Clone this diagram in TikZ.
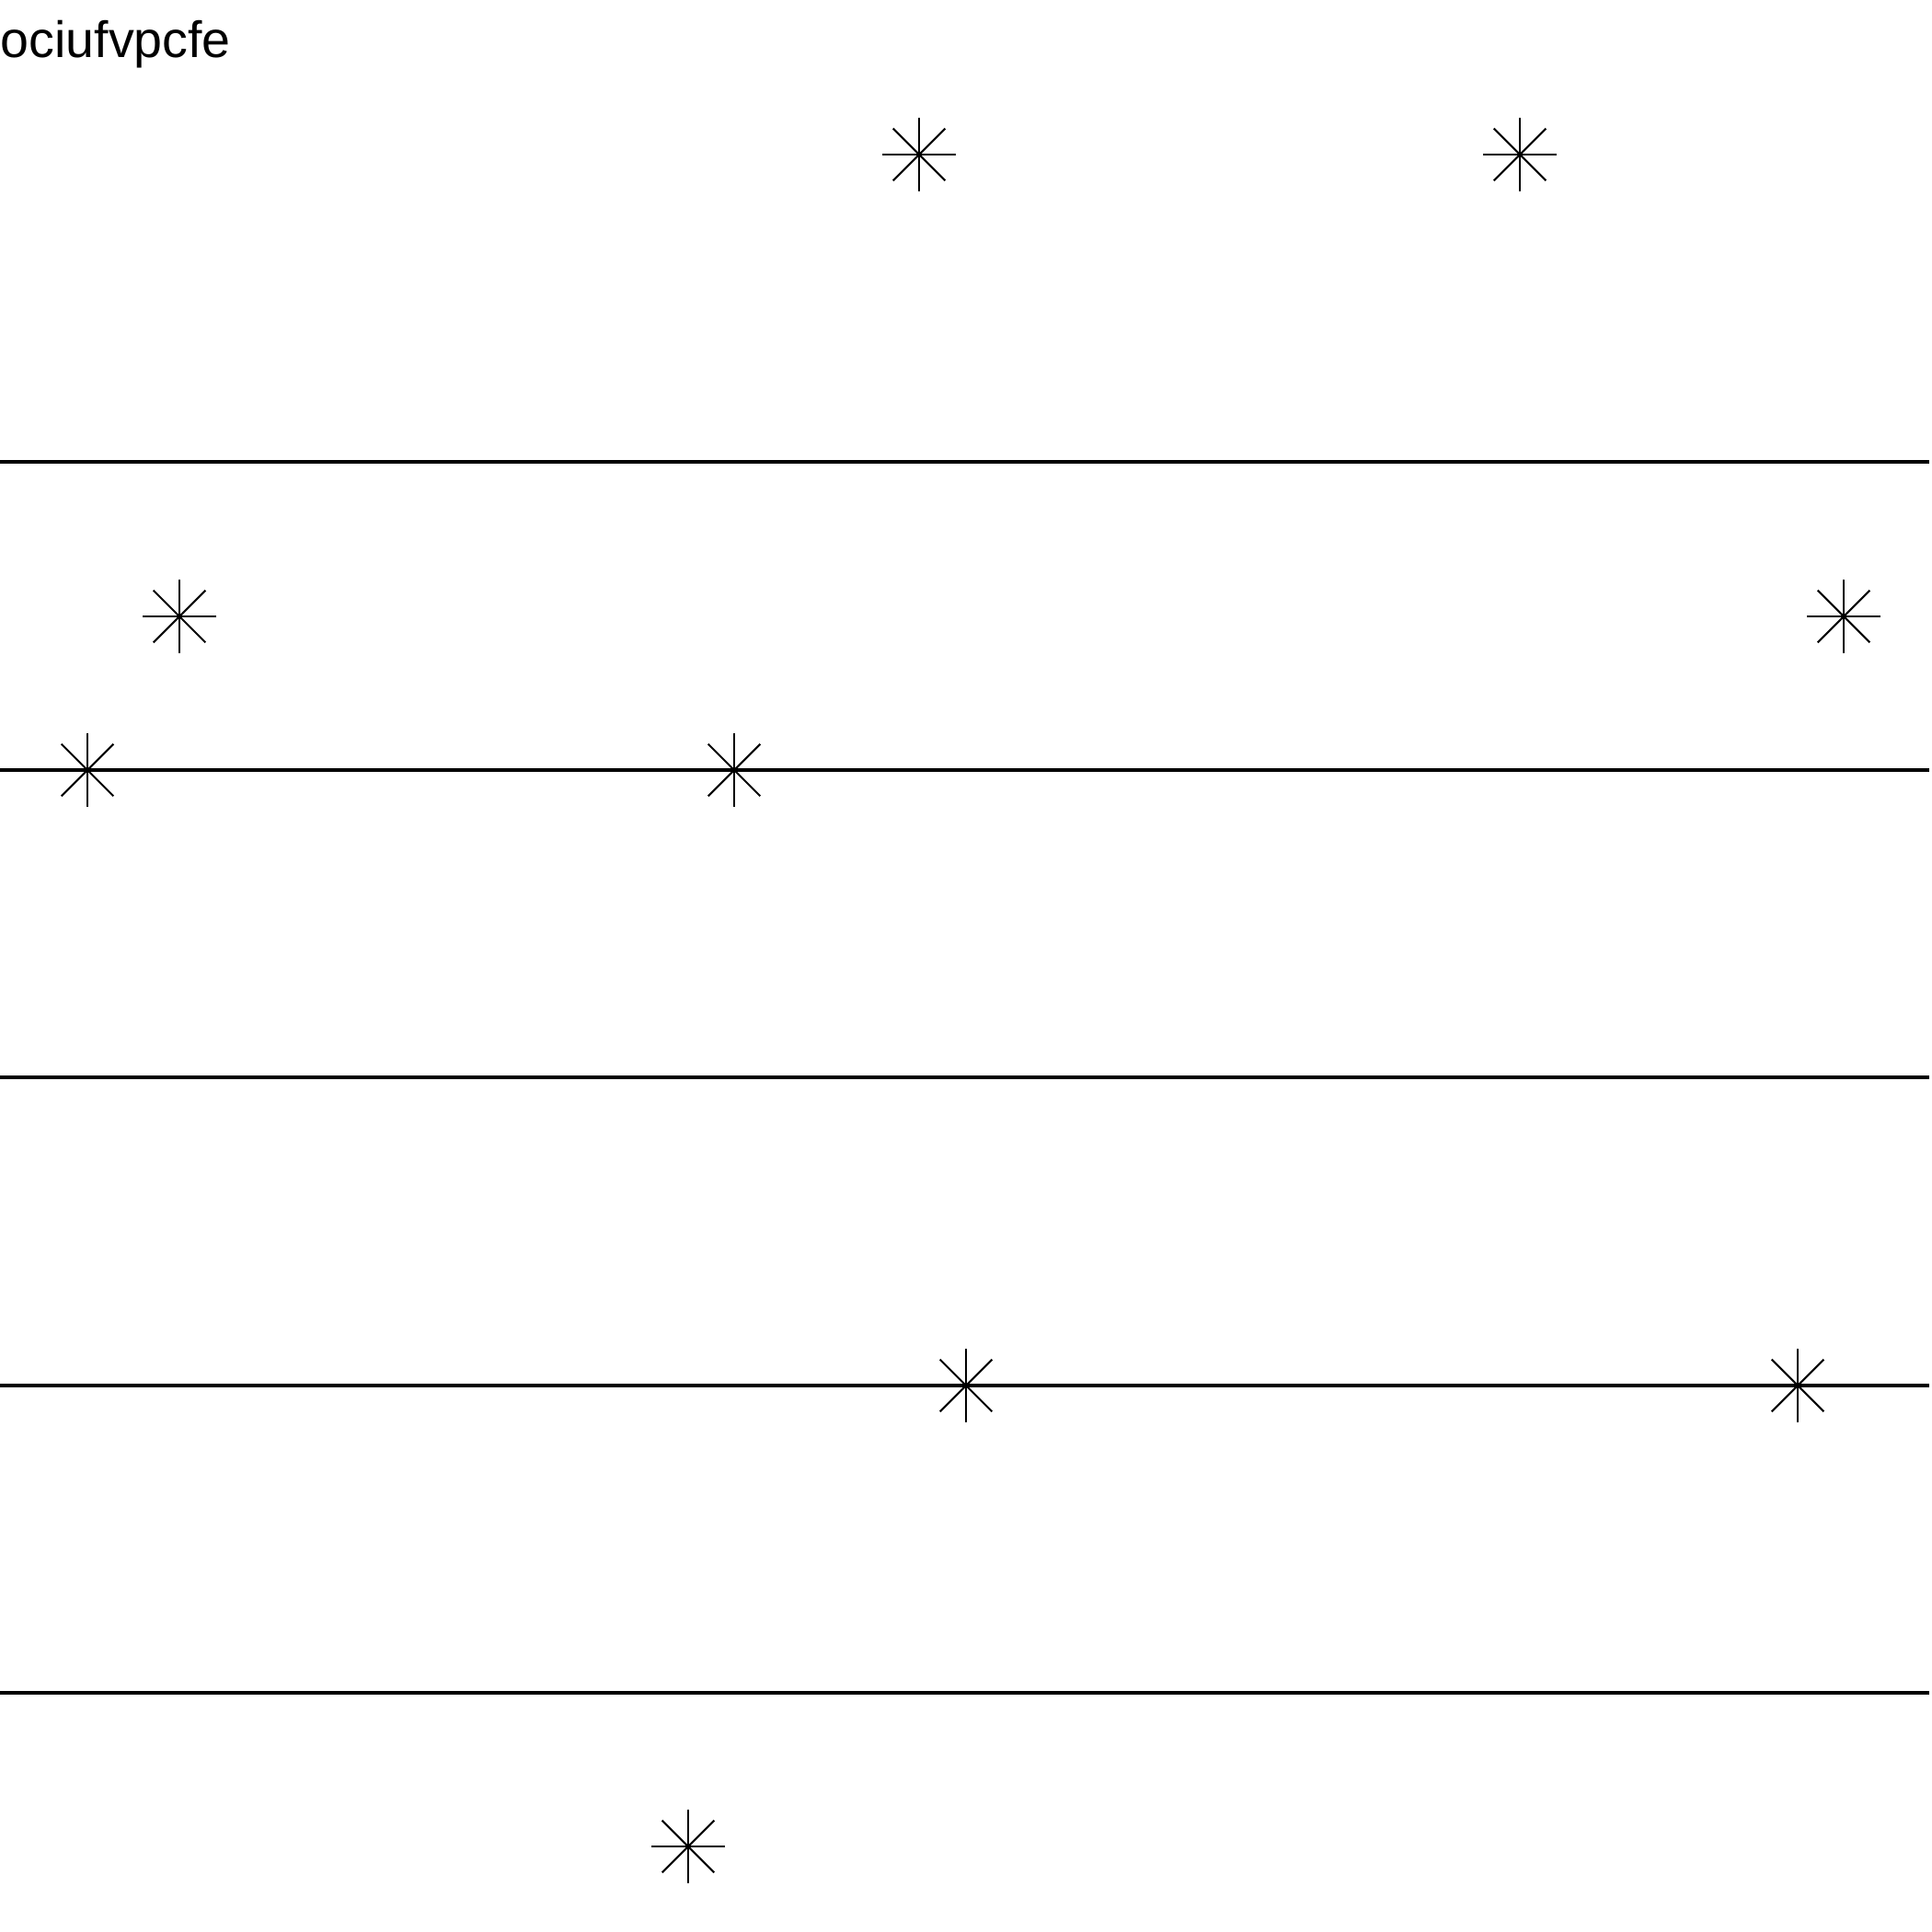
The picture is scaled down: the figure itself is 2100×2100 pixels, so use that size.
\documentclass[tikz,border=0pt]{standalone}
\usepackage{fontspec}
\setmainfont{Liberation Sans}
\usetikzlibrary{calc}

\begin{document}
\begin{tikzpicture}[x=0.01cm,y=-0.01cm]
	\useasboundingbox (0,0) rectangle (2100,2100);

	%Title
	\node[anchor=base west,inner sep=0pt,font=\fontsize{15.8}{19}\selectfont] (title) at (0,63) {ociufvpcfe};

	%Lines
	\foreach \y [count=\i] in {502,837,1171,1506,1840}
		\draw[line width=1.1pt] (0,\y) coordinate (l\i) -- (2097,\y) coordinate (r\i);

	%Stars
	\foreach \p/\q [count=\i] in {999/168,1652/168,195/670,2004/670,95/837,798/837,1050/1506,1954/1506,748/2007}
	{
		\coordinate (s\i) at (\p,\q);
		\foreach \a in {0,45,90,135}
			\draw[line width=0.6pt] ($(s\i)+(\a:40)$) -- ($(s\i)+(\a+180:40)$);
	}
\end{tikzpicture}
\end{document}
